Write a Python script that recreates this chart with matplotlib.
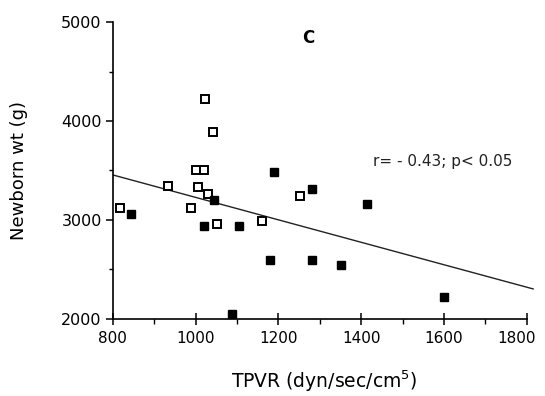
import matplotlib
matplotlib.use("Agg")
import matplotlib.pyplot as plt
import matplotlib.transforms as mtransforms
from matplotlib.ticker import MultipleLocator

plt.rcParams['font.family'] = ['DejaVu Sans']

# open squares
open_x = [1022, 1041, 1002, 1020, 934, 1006, 1030, 1252, 817, 988, 1052, 1161]
open_y = [4227, 3889, 3500, 3500, 3341, 3330, 3265, 3237, 3123, 3123, 2960, 2984]

# filled squares
fill_x = [1189, 1281, 845, 1045, 1020, 1105, 1179, 1281, 1350, 1413, 1600, 1089]
fill_y = [3483, 3315, 3062, 3197, 2943, 2943, 2596, 2596, 2548, 3156, 2217, 2049]

# regression line ends
line_x = [800, 1815]
line_y = [3455, 2302]

stat_text = "r= - 0.43; p< 0.05"
panel_label = "C"

fig = plt.figure(figsize=(5.45, 3.96), dpi=100)
ax = fig.add_axes([0.207, 0.195, 0.775, 0.749])

ax.plot(line_x, line_y, color='#222222', lw=1.0, zorder=1)
ax.plot(open_x, open_y, 's', ms=5.5, mfc='white', mec='black', mew=1.4, ls='none', zorder=2)
ax.plot(fill_x, fill_y, 's', ms=6, mfc='black', mec='black', ls='none', zorder=3)

ax.set_xlim(800, 1820)
ax.set_ylim(2000, 5000)
ax.spines['top'].set_visible(False)
ax.spines['right'].set_visible(False)
ax.spines['bottom'].set_bounds(800, 1800)
for s in ('left', 'bottom'):
    ax.spines[s].set_linewidth(1.2)

ax.set_xticks(range(800, 1801, 200))
ax.xaxis.set_minor_locator(MultipleLocator(100))
ax.yaxis.set_major_locator(MultipleLocator(1000))
ax.yaxis.set_minor_locator(MultipleLocator(500))

ax.tick_params(axis='x', which='major', direction='inout', length=8, width=1.1, labelsize=11, pad=5)
ax.tick_params(axis='x', which='minor', direction='out', length=3.5, width=1.0)
ax.tick_params(axis='y', which='major', direction='out', length=5, width=1.1, labelsize=11.5, pad=3)
ax.tick_params(axis='y', which='minor', direction='out', length=3, width=1.0)

# last x label sits a little left of its tick, as in the reference
last = ax.get_xticklabels()[-1]
last.set_transform(last.get_transform() + mtransforms.ScaledTranslation(-10/100, 0, fig.dpi_scale_trans))

ax.set_xlabel("TPVR (dyn/sec/cm$^5$)", fontsize=13.5, labelpad=16)
ax.set_ylabel("Newborn wt (g)", fontsize=13, labelpad=24)

ax.text(1428, 3590, stat_text, fontsize=11, ha='left', va='center', color='#222222')
ax.text(1273, 4838, panel_label, fontsize=12, ha='center', va='center', fontweight='bold')

fig.savefig("out.png", dpi=100)
